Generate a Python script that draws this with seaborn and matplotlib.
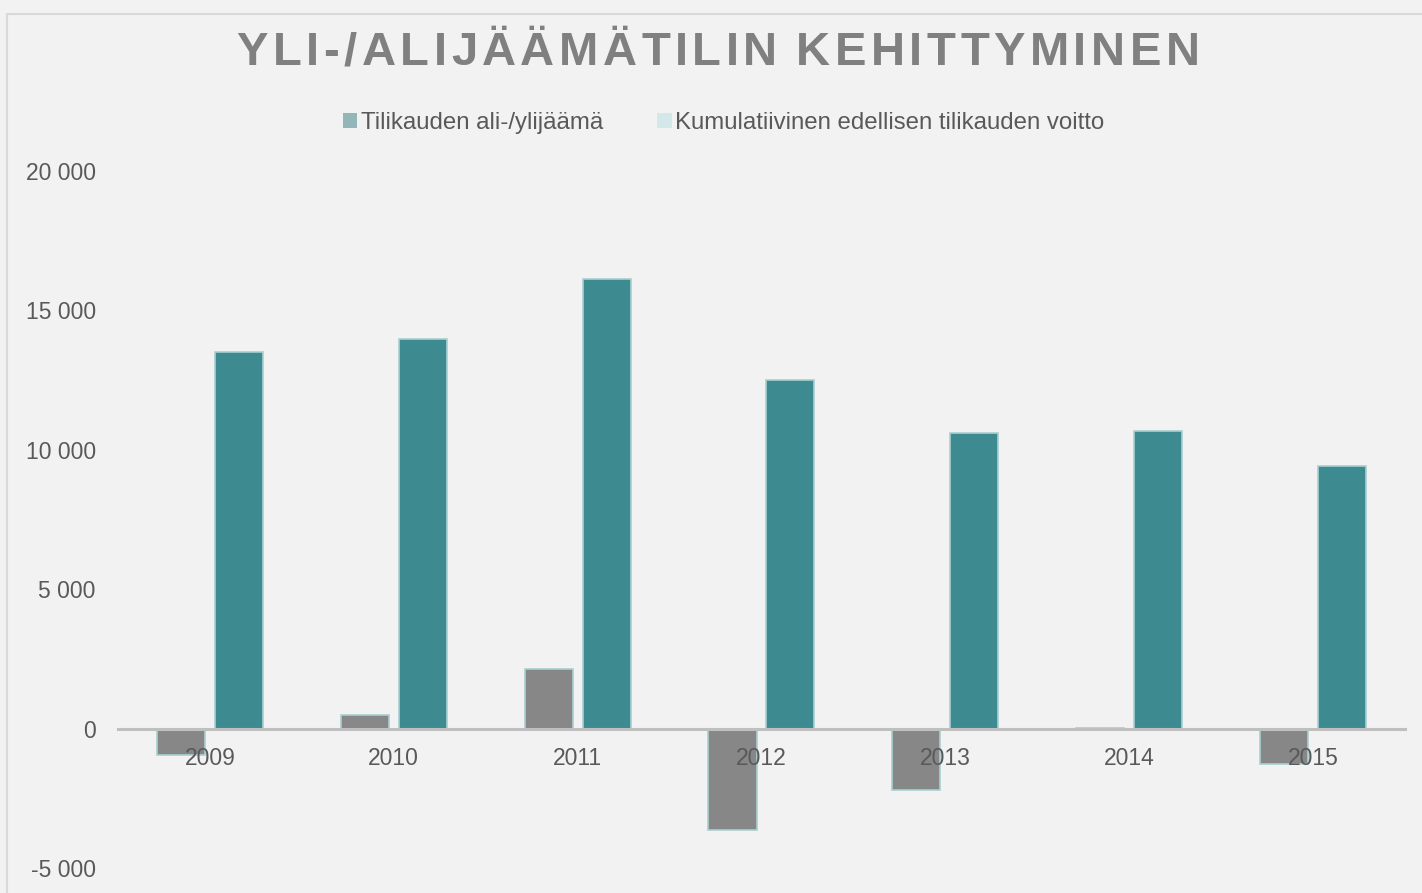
import matplotlib.pyplot as plt
import matplotlib.ticker as mticker
from matplotlib.patches import Patch, Rectangle
import pandas as pd
import seaborn as sns

# data
years = ['2009', '2010', '2011', '2012', '2013', '2014', '2015']
tilikauden = [-950, 470, 2150, -3630, -2190, 30, -1260]
kumulatiivinen = [13500, 13970, 16120, 12500, 10590, 10660, 9410]
series_names = ['Tilikauden ali-/ylijäämä', 'Kumulatiivinen edellisen tilikauden voitto']
y_ticks = [-5000, 0, 5000, 10000, 15000, 20000]
title = 'YLI-/ALIJÄÄMÄTILIN KEHITTYMINEN'

df = pd.DataFrame({
    'vuosi': years * 2,
    'arvo': tilikauden + kumulatiivinen,
    'sarja': [series_names[0]] * len(years) + [series_names[1]] * len(years),
})

sns.set_theme(style='white')
plt.rcParams['font.family'] = ['Liberation Sans', 'DejaVu Sans']

bg = '#f2f2f2'
txt = '#595959'

fig = plt.figure(figsize=(14.22, 8.93), dpi=100, facecolor=bg)
ax = fig.add_axes([0.083, 0.028, 0.905, 0.7805])
ax.set_facecolor(bg)

sns.barplot(data=df, x='vuosi', y='arvo', hue='sarja', ax=ax,
            palette=['#878787', '#3d8b90'], saturation=1, width=0.63, gap=0.17,
            edgecolor='#a9cfd1', linewidth=1.2, legend=False)

ax.set_ylim(-5000, 20000)
ax.set_xlim(-0.5, len(years) - 0.5)
ax.set_yticks(y_ticks)
ax.yaxis.set_major_formatter(mticker.FuncFormatter(lambda v, p: f'{int(v):,}'.replace(',', ' ')))
ax.set_xlabel('')
ax.set_ylabel('')

for s in ['top', 'right', 'left']:
    ax.spines[s].set_visible(False)
ax.spines['bottom'].set_position(('data', 0))
ax.spines['bottom'].set_color('#bfbfbf')
ax.spines['bottom'].set_linewidth(2.2)
ax.spines['bottom'].set_zorder(3)

ax.tick_params(axis='x', length=0, pad=13, labelsize=16.5, labelcolor=txt)
ax.tick_params(axis='y', length=0, pad=16, labelsize=16.5, labelcolor=txt)
ax.xaxis.set_zorder(5)

handles = [Patch(facecolor='#93b7b8', edgecolor='none'),
           Patch(facecolor='#d3e8e9', edgecolor='none')]
fig.legend(handles, series_names, loc='center', bbox_to_anchor=(0.509, 1 - 123 / 893),
           ncol=2, frameon=False, fontsize=17.3, labelcolor=txt,
           handlelength=0.6, handleheight=0.6, handletextpad=0.15, columnspacing=2.25)

# letter-spaced title, drawn char by char
fig.canvas.draw()
rend = fig.canvas.get_renderer()
title_kw = dict(fontsize=34, fontweight='bold', color='#808080')


def text_w(s):
    t = fig.text(0, 0, s, **title_kw)
    w = t.get_window_extent(rend).width
    t.remove()
    return w


space_w = text_w('A A') - text_w('AA')
widths = [space_w if c == ' ' else text_w(c) for c in title]
target_w = 963
track = (target_w - sum(widths)) / (len(title) - 1)
x = 718 - target_w / 2
for c, w in zip(title, widths):
    if c != ' ':
        fig.text(x / 1422, 1 - 53 / 893, c, ha='left', va='center', **title_kw)
    x += w + track

# thin frame around the chart area
fig.patches.append(Rectangle((0.005, -0.01), 1.0, 1 - 0.006, transform=fig.transFigure,
                             fill=False, edgecolor='#d9d9d9', linewidth=1.5))

fig.savefig('out.png', dpi=100, facecolor=bg)
